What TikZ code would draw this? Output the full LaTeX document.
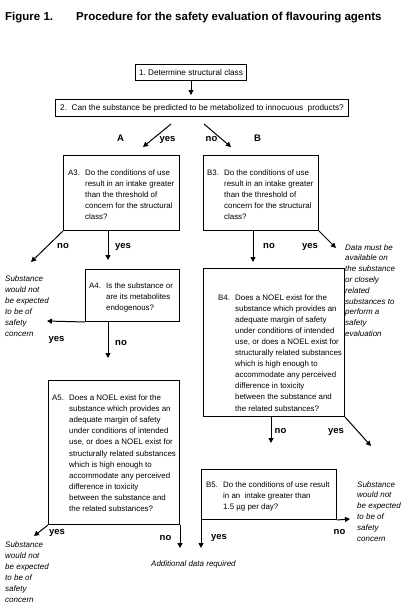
\documentclass[tikz,border=0pt]{standalone}
\usepackage{fontspec}
\setmainfont{Liberation Sans}
\usetikzlibrary{arrows.meta}
\tikzset{
  box/.style={draw, line width=1pt, inner sep=0pt, anchor=north west},
  arr/.style={line width=1pt, -{Triangle[length=5pt,width=5pt]}},
  lbl/.style={font=\fontsize{9.5}{10}\selectfont\bfseries, inner sep=0pt, anchor=base},
  qtxt/.style={font=\fontsize{7.9}{11.1}\selectfont, inner sep=0pt, anchor=base west},
  ittxt/.style={font=\fontsize{8}{11}\selectfont\itshape, inner sep=0pt, anchor=base west},
  ttl/.style={font=\fontsize{11.5}{12}\selectfont\bfseries, inner sep=0pt, anchor=base west},
}
\newcommand\qtab[2]{\begin{tabular}[t]{@{}p{17pt}@{}l@{}}#1 & #2\end{tabular}}
\newcommand\itab[1]{\begin{tabular}[t]{@{}l@{}}#1\end{tabular}}
\begin{document}
\begin{tikzpicture}[x=1pt,y=-1pt]
\fill[white] (0,0) rectangle (404,616);
\useasboundingbox (0,0) rectangle (404,616);

% title
\node[ttl] (fig) at (5,20) {Figure 1.};
\node[ttl] (title) at (76,20) {Procedure for the safety evaluation of flavouring agents};

% boxes
\node[box, minimum width=111pt, minimum height=16pt, font=\fontsize{8.2}{10}\selectfont] (B1) at (135,64) {1.~Determine structural class};
\node[box, minimum width=293pt, minimum height=17pt, font=\fontsize{8.2}{10}\selectfont] (B2) at (55,99) {2.~~Can the substance be predicted to be metabolized to innocuous~~products?};
\node[box, minimum width=116pt, minimum height=75pt] (A3) at (63,155) {};
\node[box, minimum width=115pt, minimum height=75pt] (B3) at (203,155) {};
\node[box, minimum width=94pt, minimum height=52pt] (A4) at (85,269) {};
\node[box, minimum width=141pt, minimum height=148pt] (B4) at (203,268) {};
\node[box, minimum width=131pt, minimum height=144pt] (A5) at (48,380) {};
\node[box, minimum width=135pt, minimum height=50pt] (B5) at (201,469) {};

% box texts
\node[qtxt] (A3t) at (68,175) {\qtab{A3.}{Do the conditions of use\\ & result in an intake greater\\ & than the threshold of\\ & concern for the structural\\ & class?}};
\node[qtxt] (B3t) at (207,175) {\qtab{B3.}{Do the conditions of use\\ & result in an intake greater\\ & than the threshold of\\ & concern for the structural\\ & class?}};
\node[qtxt] (A4t) at (89,288) {\qtab{A4.}{Is the substance or\\ & are its metabolites\\ & endogenous?}};
\node[qtxt] (B4t) at (218,300) {\qtab{B4.}{Does a NOEL exist for the\\ & substance which provides an\\ & adequate margin of safety\\ & under conditions of intended\\ & use, or does a NOEL exist for\\ & structurally related substances\\ & which is high enough to\\ & accommodate any perceived\\ & difference in toxicity\\ & between the substance and\\ & the related substances?}};
\node[qtxt] (A5t) at (52,400.5) {\qtab{A5.}{Does a NOEL exist for the\\ & substance which provides an\\ & adequate margin of safety\\ & under conditions of intended\\ & use, or does a NOEL exist for\\ & structurally related substances\\ & which is high enough to\\ & accommodate any perceived\\ & difference in toxicity\\ & between the substance and\\ & the related substances?}};
\node[qtxt] (B5t) at (206,487) {\qtab{B5.}{Do the conditions of use result\\ & in an~~intake greater than\\ & 1.5 µg per day?}};

% outcome texts
\node[ittxt] (sub1) at (5,281) {\itab{Substance\\would not\\be expected\\to be of\\safety\\concern}};
\node[ittxt] (sub2) at (5,547) {\itab{Substance\\would not\\be expected\\to be of\\safety\\concern}};
\node[ittxt, font=\fontsize{8}{10.8}\selectfont\itshape] (data) at (345,250) {\itab{Data must be\\available on\\the substance\\or closely\\related\\substances to\\perform a\\safety\\evaluation}};
\node[ittxt, font=\fontsize{8}{10.8}\selectfont\itshape] (sub3) at (357,487) {\itab{Substance\\would not\\be expected\\to be of\\safety\\concern}};
\node[ittxt] (adr) at (151,566) {Additional data required};

% free ends
\coordinate (s1) at (171,124);
\coordinate (e1) at (143,147);
\coordinate (s2) at (204,124);
\coordinate (e2) at (231,147);
\coordinate (a3no) at (31,262);
\coordinate (a4yes) at (47,321);
\coordinate (a5yes) at (34,536);
\coordinate (b3yes) at (336,248);
\coordinate (b4yes) at (371,446);
\coordinate (b5no) at (350,519);

% connectors
\draw[arr, shorten >=4pt] (B1.south) -- (B1.south |- B2.north);
\draw[arr] (s1) -- (e1);
\draw[arr] (s2) -- (e2);
\draw[arr] (A3.south west) -- (a3no);
\draw[arr, shorten >=9pt] ([xshift=45pt]A3.south west) -- ([xshift=23pt]A4.north west);
\draw[arr] (A4.south west) -- (a4yes);
\draw[arr, shorten >=22pt] ([xshift=23pt]A4.south west) -- ([xshift=60pt]A5.north west);
\draw[arr] (A5.south west) -- (a5yes);
\draw[arr, shorten >=12pt] (A5.south east) -- (A5.south east |- adr.north);
\draw[arr, shorten >=6pt] ([xshift=50pt]B3.south west) -- ([xshift=50pt]B4.north west);
\draw[arr] (B3.south east) -- (b3yes);
\draw[arr, shorten >=26pt] ([xshift=68pt]B4.south west) -- ([xshift=70pt]B5.north west);
\draw[arr] (B4.south east) -- (b4yes);
\draw[arr] (B5.south east) -- (b5no);
\draw[arr, shorten >=12pt] (B5.south west) -- (B5.south west |- adr.north);

% labels
\node[lbl] (lA) at (120.5,141) {A};
\node[lbl] (lyes0) at (167.5,141) {yes};
\node[lbl] (lno0) at (211.5,141) {no};
\node[lbl] (lB) at (257.5,141) {B};
\node[lbl] (la3no) at (63,248) {no};
\node[lbl] (la3yes) at (123,248) {yes};
\node[lbl] (la4yes) at (56.5,341) {yes};
\node[lbl] (la4no) at (121,345) {no};
\node[lbl] (la5yes) at (57,534) {yes};
\node[lbl] (la5no) at (165.5,540) {no};
\node[lbl] (lb3no) at (269,248) {no};
\node[lbl] (lb3yes) at (310,248) {yes};
\node[lbl] (lb4no) at (280.5,433) {no};
\node[lbl] (lb4yes) at (336,433) {yes};
\node[lbl] (lb5yes) at (219,539) {yes};
\node[lbl] (lb5no) at (339.5,534) {no};
\end{tikzpicture}
\end{document}
